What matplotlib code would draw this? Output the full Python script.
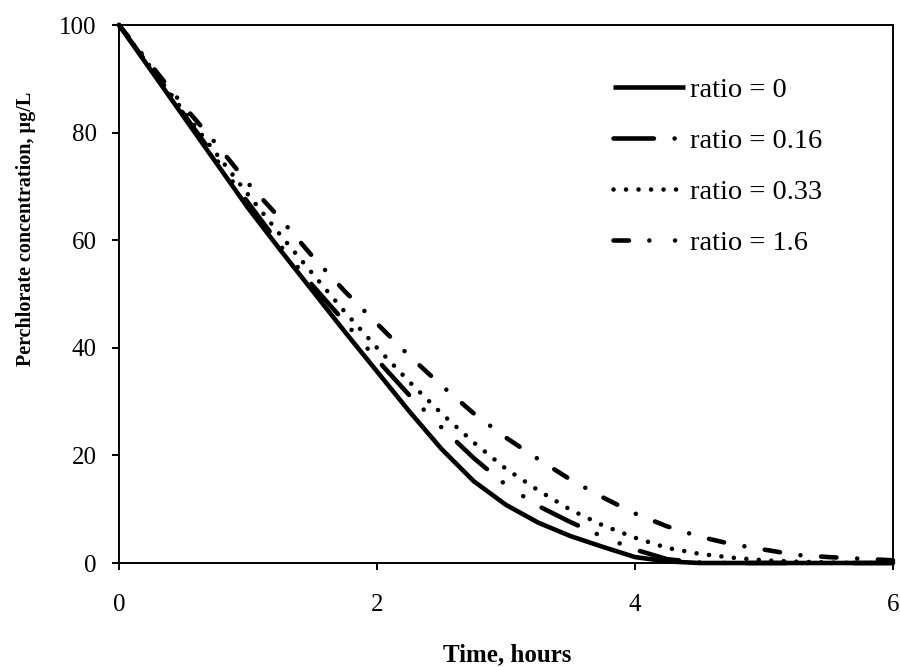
import matplotlib
matplotlib.use("Agg")
import matplotlib.pyplot as plt
from matplotlib.lines import Line2D

# ---- data ----
time_h = [0, 0.25, 0.5, 0.75, 1, 1.25, 1.5, 1.75, 2, 2.25, 2.5, 2.75, 3,
          3.25, 3.5, 3.75, 4, 4.25, 4.5, 4.75, 5, 5.25, 5.5, 5.75, 6]
ratio_0 = [100, 91.5, 83, 74.5, 66, 58.2, 50.6, 43, 35.6, 28.2, 21.2, 15.2, 10.8,
           7.5, 5.0, 3.0, 1.1, 0.3, 0, 0, 0, 0, 0, 0, 0]
ratio_016 = [100, 91.8, 83.5, 75.2, 67, 59, 51.6, 44.8, 37.8, 31.2, 25.2, 19.5, 14.5,
             10.6, 7.6, 4.9, 2.5, 0.7, 0.1, 0, 0, 0, 0, 0, 0]
ratio_033 = [100, 92, 84, 76.2, 68.5, 61, 53.8, 46.7, 40, 33.7, 27.8, 22.4, 17.5,
             13.5, 9.9, 7.0, 4.7, 2.8, 1.7, 1.0, 0.5, 0.25, 0.1, 0, 0]
ratio_16 = [100, 92.5, 85, 78, 70.6, 64, 57, 50.5, 44.5, 38.5, 33, 27.8, 23.3,
            19.3, 15.5, 12.2, 9.2, 6.8, 4.9, 3.5, 2.5, 1.5, 1.1, 0.8, 0.5]
labels = ["ratio = 0", "ratio = 0.16", "ratio = 0.33", "ratio = 1.6"]
x_ticks = [0, 2, 4, 6]
y_ticks = [0, 20, 40, 60, 80, 100]

plt.rcParams['font.family'] = ['Liberation Serif', 'DejaVu Serif']
plt.rcParams['lines.scale_dashes'] = False

fig = plt.figure(figsize=(9, 6.67), dpi=100)
ax = fig.add_axes([119/900, 1-563/667, (893-119)/900, (563-25)/667])

lw = 3.3
styles = [
    '-',
    (0, (29.1, 14.9, 0.01, 17.8, 0.01, 15.6)),
    (0, (0.01, 9.0)),
    (0, (11.1, 14.9, 0.01, 14.9)),
]
legend_styles = [
    '-',
    (0, (29.1, 14.9, 0.01, 17.8, 0.01, 15.6)),
    (0, (0.01, 9.0)),
    (0, (11.1, 14.7, 0.01, 18.5, 0.01, 15.0)),
]
series = [ratio_0, ratio_016, ratio_033, ratio_16]
for vals, ls in zip(series, styles):
    ax.plot(time_h, vals, color='black', lw=lw, linestyle=ls,
            dash_capstyle='round', solid_capstyle='butt', solid_joinstyle='round',
            clip_on=False, zorder=3)

ax.set_xlim(0, 6)
ax.set_ylim(0, 100)
ax.set_xticks(x_ticks)
ax.set_yticks(y_ticks)
ax.set_xticklabels([str(v) for v in x_ticks])
ax.set_yticklabels([str(v) for v in y_ticks])
for s in ax.spines.values():
    s.set_linewidth(1.4)
    s.set_color('black')
ax.tick_params(axis='both', direction='out', length=5, width=1.4, labelsize=18)
ax.tick_params(axis='y', pad=11)
ax.tick_params(axis='x', pad=17)

handles = [Line2D([], [], color='black', lw=lw, linestyle=ls, dash_capstyle='round',
                  solid_capstyle='butt') for ls in legend_styles]
leg = fig.legend(handles, labels, loc='upper left', bbox_to_anchor=(613/900, 0.884),
                 frameon=False, fontsize=20.5, handlelength=2.54, handletextpad=0.18,
                 labelspacing=0.88, borderpad=0, borderaxespad=0)

fig.text(0.563, 0.008, "Time, hours", ha='center', va='baseline',
         fontsize=18, fontweight='bold')
fig.text(0.029, 0.657, "Perchlorate concentration, µg/L", ha='center', va='center',
         rotation=90, fontsize=14.5, fontweight='bold')

fig.savefig("out.png", dpi=100)
